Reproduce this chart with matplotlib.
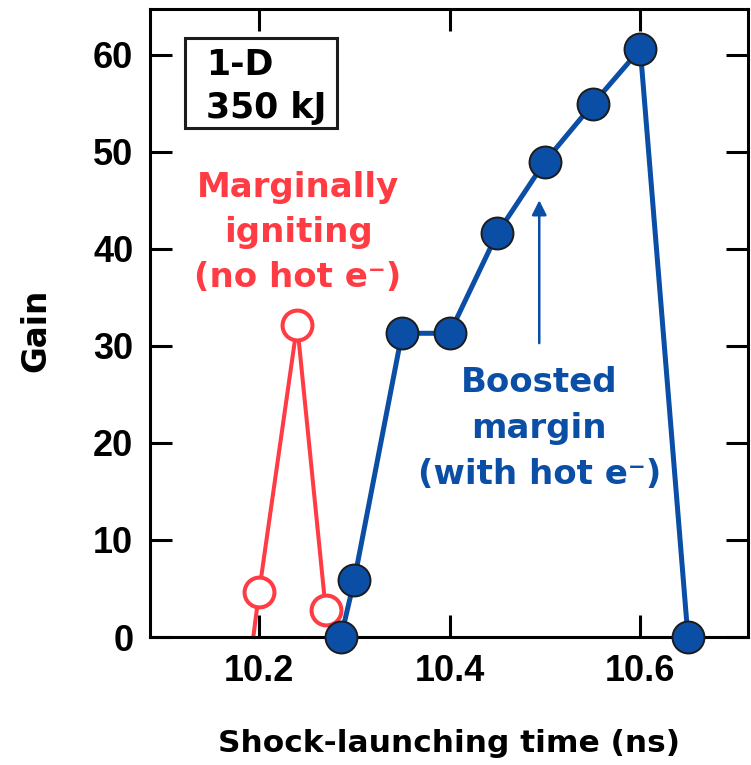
import matplotlib.pyplot as plt
from matplotlib.patches import Rectangle

plt.rcParams['font.family'] = ['Liberation Sans', 'DejaVu Sans']
plt.rcParams['font.weight'] = 'bold'

RED = '#ff3b43'
BLUE = '#0a4ea6'
WIDE = ['DejaVu Sans']

# marginally igniting design, no hot electrons
t_cold = [10.194, 10.20, 10.24, 10.27, 10.285]
gain_cold = [0.0, 4.6, 32.2, 2.8, 0.0]

# boosted margin, with hot electrons
t_hot = [10.286, 10.30, 10.35, 10.40, 10.45, 10.50, 10.55, 10.60, 10.65]
gain_hot = [0.0, 5.9, 31.3, 31.3, 41.6, 49.0, 54.9, 60.6, 0.0]

x_ticks = [10.2, 10.4, 10.6]
y_ticks = [0, 10, 20, 30, 40, 50, 60]

fig = plt.figure(figsize=(7.51, 7.65), dpi=100)
ax = fig.add_axes([0.1997, 0.1673, 0.7963, 0.8207])

# red line, open markers only on the three computed shots
ax.plot(t_cold, gain_cold, color=RED, lw=2.9, zorder=2, clip_on=False)
ax.plot(t_cold[1:4], gain_cold[1:4], 'o', ms=21.5, mfc='white', mec=RED,
        mew=2.9, zorder=3, clip_on=False)

ax.plot(t_hot, gain_hot, '-o', color=BLUE, lw=3.6, ms=23, mfc=BLUE,
        mec='#1c1c1c', mew=1.4, zorder=4, clip_on=False)

ax.set_xlim(10.0856, 10.713)
ax.set_ylim(0, 64.7)
ax.set_xticks(x_ticks)
ax.set_xticklabels(['10.2', '10.4', '10.6'])
ax.set_yticks(y_ticks)

for s in ax.spines.values():
    s.set_linewidth(2.2)
ax.tick_params(direction='in', length=16, width=2.2, labelsize=26,
               top=True, right=True, pad=12)
for lab in ax.get_xticklabels() + ax.get_yticklabels():
    lab.set_fontweight('bold')

ax.set_xlabel('Shock-launching time (ns)', fontsize=22.5, fontweight='bold',
              family=WIDE, labelpad=29)
ax.set_ylabel('Gain', fontsize=23.5, fontweight='bold', family=WIDE)
ax.yaxis.set_label_coords(-0.163, 0.489)

# "1-D / 350 kJ" box in the upper-left corner
ax.add_patch(Rectangle((0.0585, 0.8105), 0.2542, 0.1433,
                       transform=ax.transAxes, fc='white', ec='#1c1c1c',
                       lw=2.2, zorder=5))
ax.text(0.0936, 0.895, '1-D', transform=ax.transAxes, fontsize=25,
        fontweight='bold', family=WIDE, va='baseline', ha='left', zorder=6)
ax.text(0.0936, 0.8264, '350 kJ', transform=ax.transAxes, fontsize=25,
        fontweight='bold', family=WIDE, va='baseline', ha='left', zorder=6)

ax.text(10.241, 41.7, 'Marginally\nigniting\n(no hot e\u207b)', color=RED,
        fontsize=24.5, fontweight='bold', family=WIDE, ha='center',
        va='center', linespacing=1.45)
ax.text(10.494, 21.5, 'Boosted\nmargin\n(with hot e\u207b)', color=BLUE,
        fontsize=24.5, fontweight='bold', family=WIDE, ha='center',
        va='center', linespacing=1.5)

ax.annotate('', xy=(10.494, 45.3), xytext=(10.494, 30.0),
            arrowprops=dict(arrowstyle='-|>', color=BLUE, lw=1.8,
                            mutation_scale=22))

fig.savefig('out.png', dpi=100)
